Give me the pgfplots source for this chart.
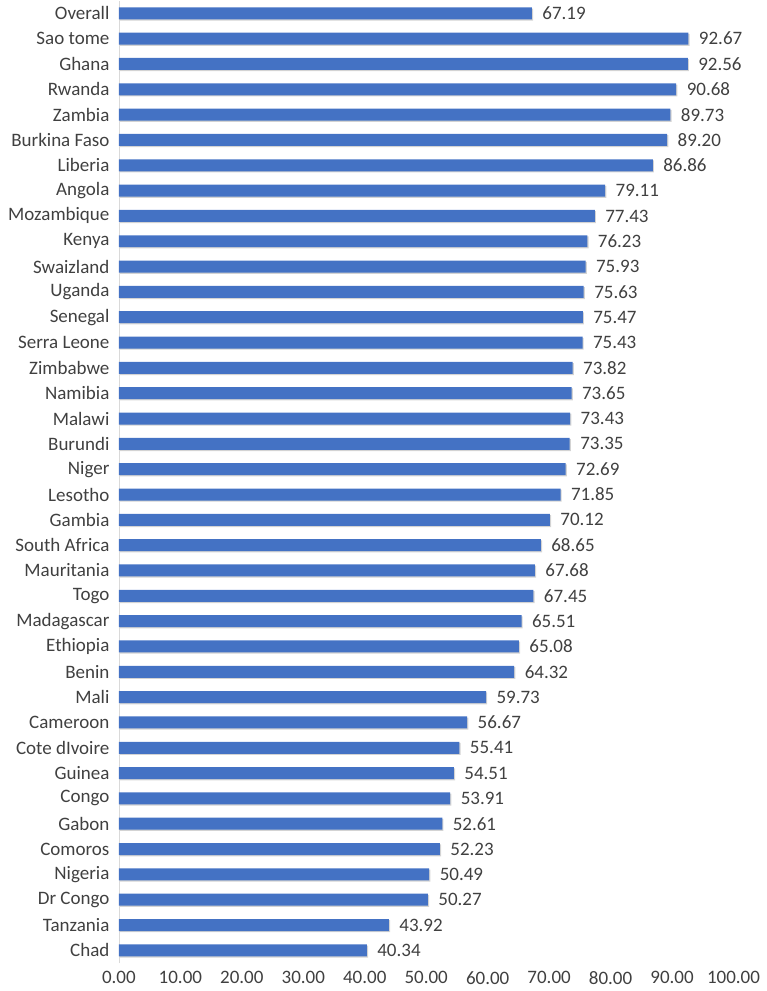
\documentclass[border=0pt]{standalone}
\usepackage{pgfplots}
\pgfplotsset{compat=1.18}
\usepackage{fontspec}
\setmainfont{Carlito}
\usetikzlibrary{shadows}
\definecolor{barblue}{HTML}{4472C4}
\definecolor{txt}{HTML}{404040}
\definecolor{axgray}{HTML}{D9D9D9}

\begin{document}
\begin{tikzpicture}
\fontsize{19}{22}\selectfont
\begin{axis}[
  scale only axis,
  width=615pt, height=963pt,
  xmin=0, xmax=100,
  ymin=-0.5, ymax=37.5,
  xbar, bar width=12pt,
  axis lines*=left,
  x axis line style={draw=none},
  y axis line style={draw=axgray, line width=0.8pt},
  major tick length=0pt,
  xtick={0,10,...,100},
  xticklabel={\pgfmathprintnumber[fixed,fixed zerofill,precision=2,assume math mode=true]{\tick}},
  ytick={0,...,37},
  yticklabels={Chad,Tanzania,Dr Congo,Nigeria,Comoros,Gabon,Congo,Guinea,Cote dIvoire,Cameroon,Mali,Benin,Ethiopia,Madagascar,Togo,Mauritania,South Africa,Gambia,Lesotho,Niger,Burundi,Malawi,Namibia,Zimbabwe,Serra Leone,Senegal,Uganda,Swaizland,Kenya,Mozambique,Angola,Liberia,Burkina Faso,Zambia,Rwanda,Ghana,Sao tome,Overall},
  ticklabel style={font=\fontsize{19}{22}\selectfont, text=txt},
  yticklabel style={xshift=-3pt},
  xticklabel style={yshift=-2pt},
  point meta=x,
  nodes near coords={\pgfmathprintnumber[fixed,fixed zerofill,precision=2,assume math mode=true]{\pgfplotspointmeta}},
  every node near coord/.append style={font=\fontsize{19}{22}\selectfont, text=txt, xshift=4pt},
  clip=false,
]
\addplot[draw=none, fill=barblue,
  drop shadow={opacity=0.35, shadow xshift=1.2pt, shadow yshift=-1.2pt}]
coordinates {
(40.34,0) (43.92,1) (50.27,2) (50.49,3) (52.23,4) (52.61,5) (53.91,6) (54.51,7)
(55.41,8) (56.67,9) (59.73,10) (64.32,11) (65.08,12) (65.51,13) (67.45,14)
(67.68,15) (68.65,16) (70.12,17) (71.85,18) (72.69,19) (73.35,20) (73.43,21)
(73.65,22) (73.82,23) (75.43,24) (75.47,25) (75.63,26) (75.93,27) (76.23,28)
(77.43,29) (79.11,30) (86.86,31) (89.20,32) (89.73,33) (90.68,34) (92.56,35)
(92.67,36) (67.19,37)
};
\path (rel axis cs:-0.1935,-0.0287) rectangle (rel axis cs:1.039,1.0007);
\end{axis}
\end{tikzpicture}
\end{document}
